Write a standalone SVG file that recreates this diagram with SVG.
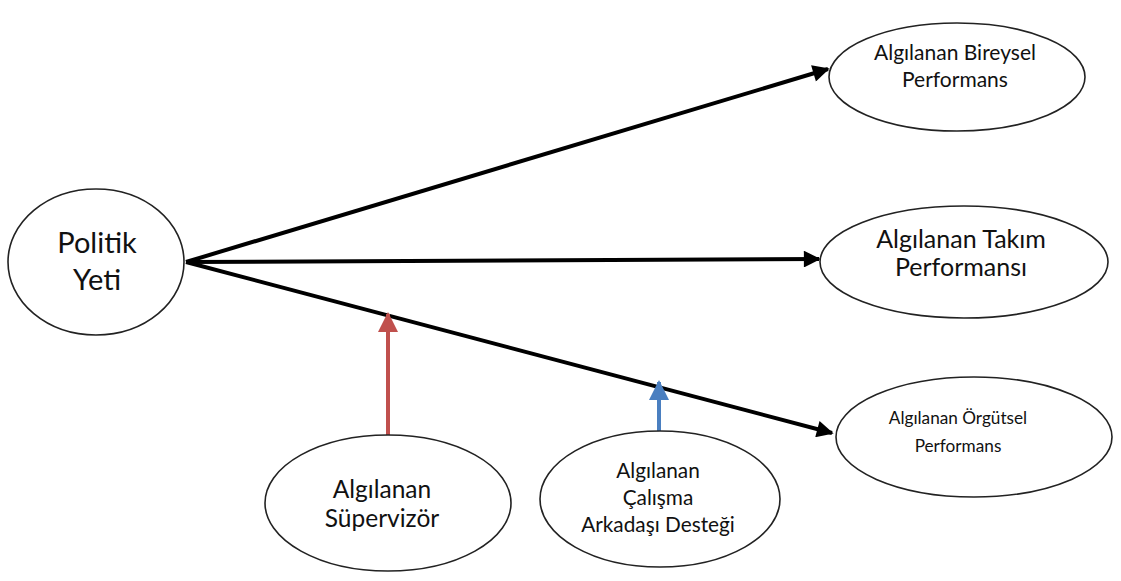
<svg xmlns="http://www.w3.org/2000/svg" width="1121" height="581" viewBox="0 0 1121 581">
  <style>
    .node ellipse { fill: #ffffff; stroke: #222222; stroke-width: 1.6; }
    .node text { font-family: Lato, "Open Sans", sans-serif; fill: #111111; text-anchor: middle; }
    .main { stroke: #000000; stroke-width: 4; fill: none; }
  </style>
  <defs>
    <marker id="headBlack" viewBox="0 0 10 10" refX="9" refY="5" markerWidth="5" markerHeight="4.2" orient="auto" markerUnits="strokeWidth">
      <path d="M0,0 L10,5 L0,10 z" fill="#000000"/>
    </marker>
    <marker id="headRed" viewBox="0 0 10 10" refX="9" refY="5" markerWidth="5" markerHeight="5" orient="auto" markerUnits="strokeWidth">
      <path d="M0,0 L10,5 L0,10 z" fill="#c0504d"/>
    </marker>
    <marker id="headBlue" viewBox="0 0 10 10" refX="9" refY="5" markerWidth="5" markerHeight="5" orient="auto" markerUnits="strokeWidth">
      <path d="M0,0 L10,5 L0,10 z" fill="#4a7fc0"/>
    </marker>
  </defs>

  <rect width="1121" height="581" fill="#ffffff"/>

  <g id="connectors">
    <line class="main" x1="186" y1="262" x2="828" y2="69" marker-end="url(#headBlack)"/>
    <line class="main" x1="186" y1="262" x2="819" y2="259" marker-end="url(#headBlack)"/>
    <line class="main" x1="186" y1="262" x2="832" y2="433" marker-end="url(#headBlack)"/>
    <line x1="388" y1="436" x2="388" y2="314" stroke="#c0504d" stroke-width="4" marker-end="url(#headRed)"/>
    <line x1="659" y1="432" x2="659" y2="382" stroke="#4a7fc0" stroke-width="4" marker-end="url(#headBlue)"/>
  </g>

  <g id="politik-yeti" class="node">
    <ellipse cx="96" cy="262" rx="88" ry="73"/>
    <text x="97" y="253" font-size="29">Politik</text>
    <text x="97" y="290" font-size="29">Yeti</text>
  </g>

  <g id="bireysel-performans" class="node">
    <ellipse cx="957" cy="77" rx="128" ry="54"/>
    <text x="955" y="60" font-size="21">Algılanan Bireysel</text>
    <text x="955" y="87" font-size="21">Performans</text>
  </g>

  <g id="takim-performansi" class="node">
    <ellipse cx="964" cy="262" rx="144" ry="56"/>
    <text x="961" y="248" font-size="25">Algılanan Takım</text>
    <text x="961" y="276" font-size="25">Performansı</text>
  </g>

  <g id="orgutsel-performans" class="node">
    <ellipse cx="974" cy="437" rx="138" ry="60"/>
    <text x="958" y="424" font-size="17.2">Algılanan Örgütsel</text>
    <text x="958" y="452" font-size="17.2">Performans</text>
  </g>

  <g id="supervizor" class="node">
    <ellipse cx="388" cy="503" rx="123" ry="68"/>
    <text x="382" y="498" font-size="24.5">Algılanan</text>
    <text x="382" y="527" font-size="24.5">Süpervizör</text>
  </g>

  <g id="calisma-arkadasi-destegi" class="node">
    <ellipse cx="660" cy="499" rx="120" ry="68"/>
    <text x="658" y="478" font-size="20.8">Algılanan</text>
    <text x="658" y="505" font-size="20.8">Çalışma</text>
    <text x="658" y="532" font-size="20.8">Arkadaşı Desteği</text>
  </g>
</svg>
